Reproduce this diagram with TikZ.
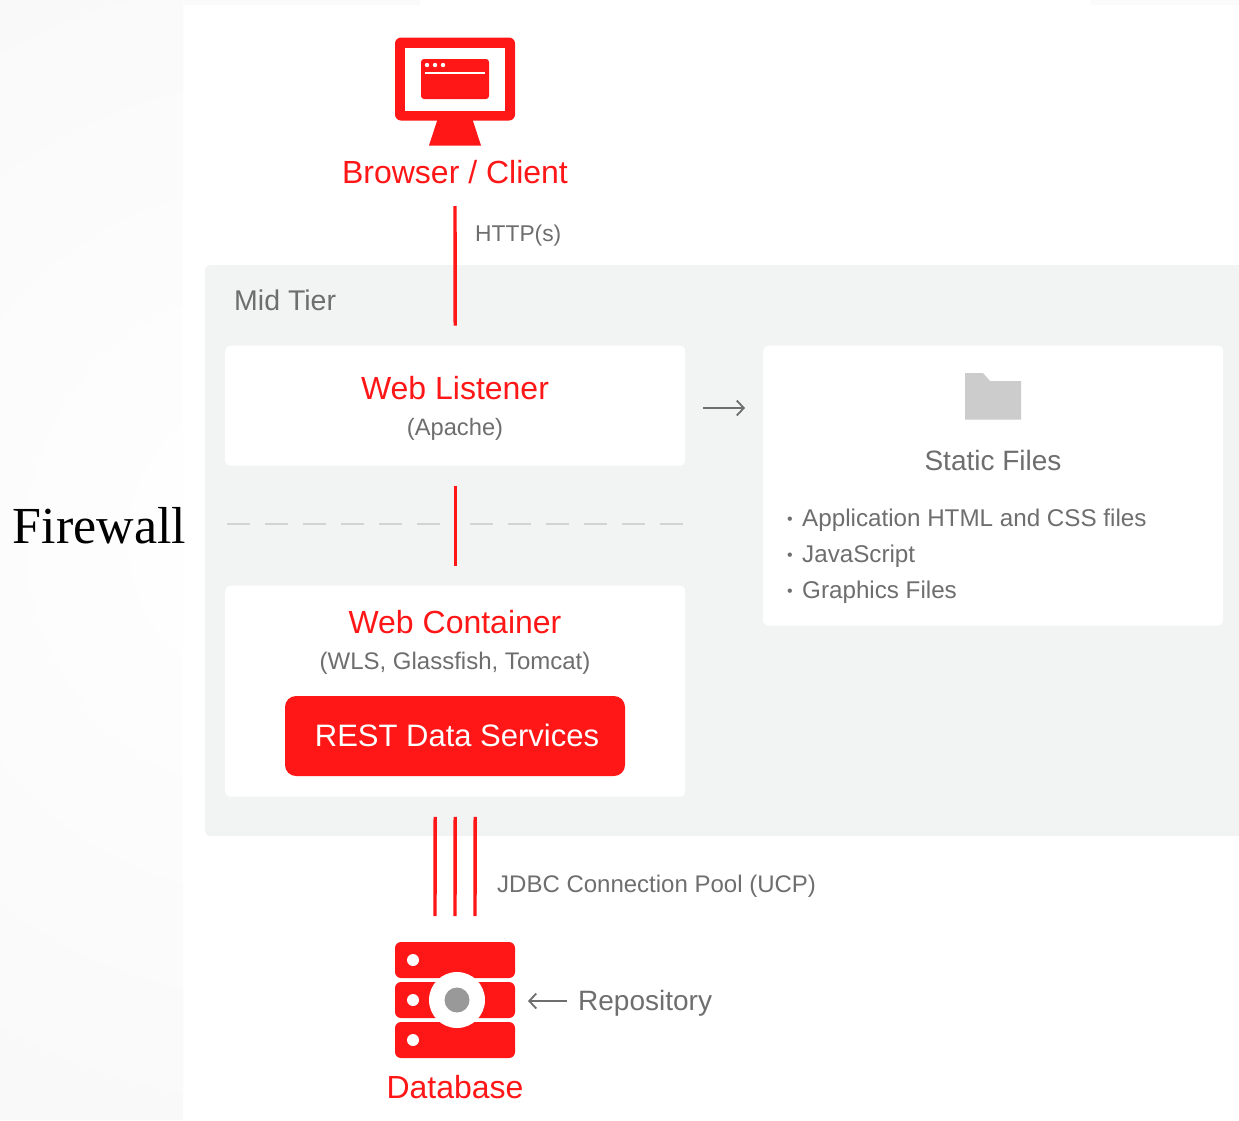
\documentclass[tikz,border=0pt]{standalone}
\usepackage{fontspec}
\setmainfont{Liberation Sans}
\newfontfamily\serifface{Liberation Serif}
\usetikzlibrary{arrows.meta,shapes.geometric}
\definecolor{ored}{HTML}{FF1616}
\definecolor{txtgray}{HTML}{6E6E6E}
\definecolor{tier}{HTML}{F2F4F3}
\definecolor{folder}{HTML}{CCCCCC}
\definecolor{dash}{HTML}{D2D4D3}
\newcommand{\fs}[1]{\fontsize{#1}{#1}\selectfont}
\newcommand{\smallbul}{\makebox[15pt][l]{\fs{16}\raisebox{1.5pt}{\textbullet}}}
\tikzset{
  x=1pt,y=-1pt,
  panel/.style={fill=white,rounded corners=5pt,draw=none,inner sep=0pt,anchor=north west},
  redtxt/.style={text=ored,font=\fs{32},inner sep=0pt},
  graytxt/.style={text=txtgray,inner sep=0pt},
  redline/.style={draw=ored,line width=3.4pt},
  thinarrow/.style={draw=txtgray,line width=1.8pt,-{Straight Barb[length=7pt,width=15pt,line width=1.8pt]}},
}
\begin{document}
\begin{tikzpicture}
\useasboundingbox (0,0) rectangle (1239,1120);
% page background
\begin{scope}
\clip (0,0) rectangle (183,1120) (183,0) rectangle (420,5);
\shade[inner color=white,outer color=black!5] (280,540) circle (1300);
\end{scope}
\fill[black!1.5] (1090,0) rectangle (1239,5);
% mid tier band
\fill[tier,rounded corners=5pt] (205,265) -- (1245,265) -- (1245,836) -- (205,836) -- cycle;
\node[graytxt,font=\fs{28.5},anchor=west] (midtier) at (234,300) {Mid Tier};
% browser icon
\fill[ored] (438,118) -- (472,118) -- (481,145.5) -- (429,145.5) -- cycle;
\fill[ored,rounded corners=6pt] (395,37.5) rectangle (515,120.5);
\fill[white] (405,47.5) rectangle (505,110.5);
\fill[ored,rounded corners=3pt] (421,59) rectangle (489,99);
\fill[white] (427,65) circle (2.2) (435,65) circle (2.2) (443,65) circle (2.2);
\fill[white] (425,71.5) rectangle (485,73.5);
\node[redtxt] (browser) at (455,172) {Browser / Client};
% boxes
\node[panel,minimum width=460pt,minimum height=120pt] (listener) at (225,345.5) {};
\node[redtxt] (listenertitle) at (455,388) {Web Listener};
\node[graytxt,font=\fs{23.7}] (apache) at (455,429) {(Apache)};
\node[panel,minimum width=460pt,minimum height=211pt] (container) at (225,585.5) {};
\node[redtxt] (containertitle) at (455,622) {Web Container};
\node[graytxt,font=\fs{24}] (wls) at (455,663.5) {(WLS, Glassfish, Tomcat)};
\node[fill=ored,rounded corners=11pt,minimum width=340pt,minimum height=80pt,inner sep=0pt] (rest) at (455,736) {};
\node[text=white,font=\fs{31},inner sep=0pt] (resttxt) at (457,735) {REST Data Services};
\node[panel,minimum width=460pt,minimum height=280pt] (static) at (763,345.5) {};
\fill[folder] (965,373) -- (983,373) -- (990,381) -- (1021,381) -- (1021,419.5) -- (965,419.5) -- cycle;
\node[graytxt,font=\fs{28}] (statictitle) at (993,460) {Static Files};
\node[graytxt,font=\fs{24.2},anchor=west] (b1) at (787,520) {\smallbul Application HTML and CSS files};
\node[graytxt,font=\fs{24.2},anchor=west] (b2) at (787,556) {\smallbul JavaScript};
\node[graytxt,font=\fs{24.2},anchor=west] (b3) at (787,592) {\smallbul Graphics Files};
% http
\coordinate (httpa) at (455,206);
\draw[redline] (httpa) -- ([yshift=20pt]listener.north);
\node[graytxt,font=\fs{22.8},anchor=west] (http) at (475,236) {HTTP(s)};
% listener to static
\draw[thinarrow] ([xshift=18pt]listener.east |- 0,408) -- ([xshift=-18pt]static.west |- 0,408);
% firewall
\node[font=\serifface\fs{52},text=black,inner sep=0pt] (firewall) at (99.5,526) {Firewall};
\draw[redline] ([yshift=-20pt]listener.south) -- ([yshift=20pt]container.north);
\draw[draw=dash,line width=1.6pt,dash pattern=on 23pt off 15pt] (227,524) -- (441,524);
\draw[draw=dash,line width=1.6pt,dash pattern=on 23pt off 15pt] (470,524) -- (684,524);
% database icon
\fill[ored,rounded corners=6pt] (395,942) rectangle (515,978);
\fill[ored,rounded corners=6pt] (395,982) rectangle (515,1018);
\fill[ored,rounded corners=6pt] (395,1022) rectangle (515,1058);
\fill[white] (413,960) circle (6) (413,1000) circle (6) (413,1040) circle (6);
\fill[white] (457,1000) circle (28);
\fill[black!40] (457,1000) circle (12.5);
\coordinate (dbtop) at (455,942);
\node[redtxt] (database) at (455,1087) {Database};
% jdbc lines
\draw[redline] ([xshift=-20pt,yshift=-20pt]container.south) -- ([xshift=-20pt,yshift=26pt]dbtop);
\draw[redline] ([yshift=-20pt]container.south) -- ([yshift=26pt]dbtop);
\draw[redline] ([xshift=20pt,yshift=-20pt]container.south) -- ([xshift=20pt,yshift=26pt]dbtop);
\node[graytxt,font=\fs{24},anchor=west] (jdbc) at (497,886.5) {JDBC Connection Pool (UCP)};
% repository
\node[graytxt,font=\fs{28},anchor=west] (repo) at (578,1003.5) {Repository};
\coordinate (ra) at (567,1001);
\draw[thinarrow] (ra) -- (528,1001);
\end{tikzpicture}
\end{document}
